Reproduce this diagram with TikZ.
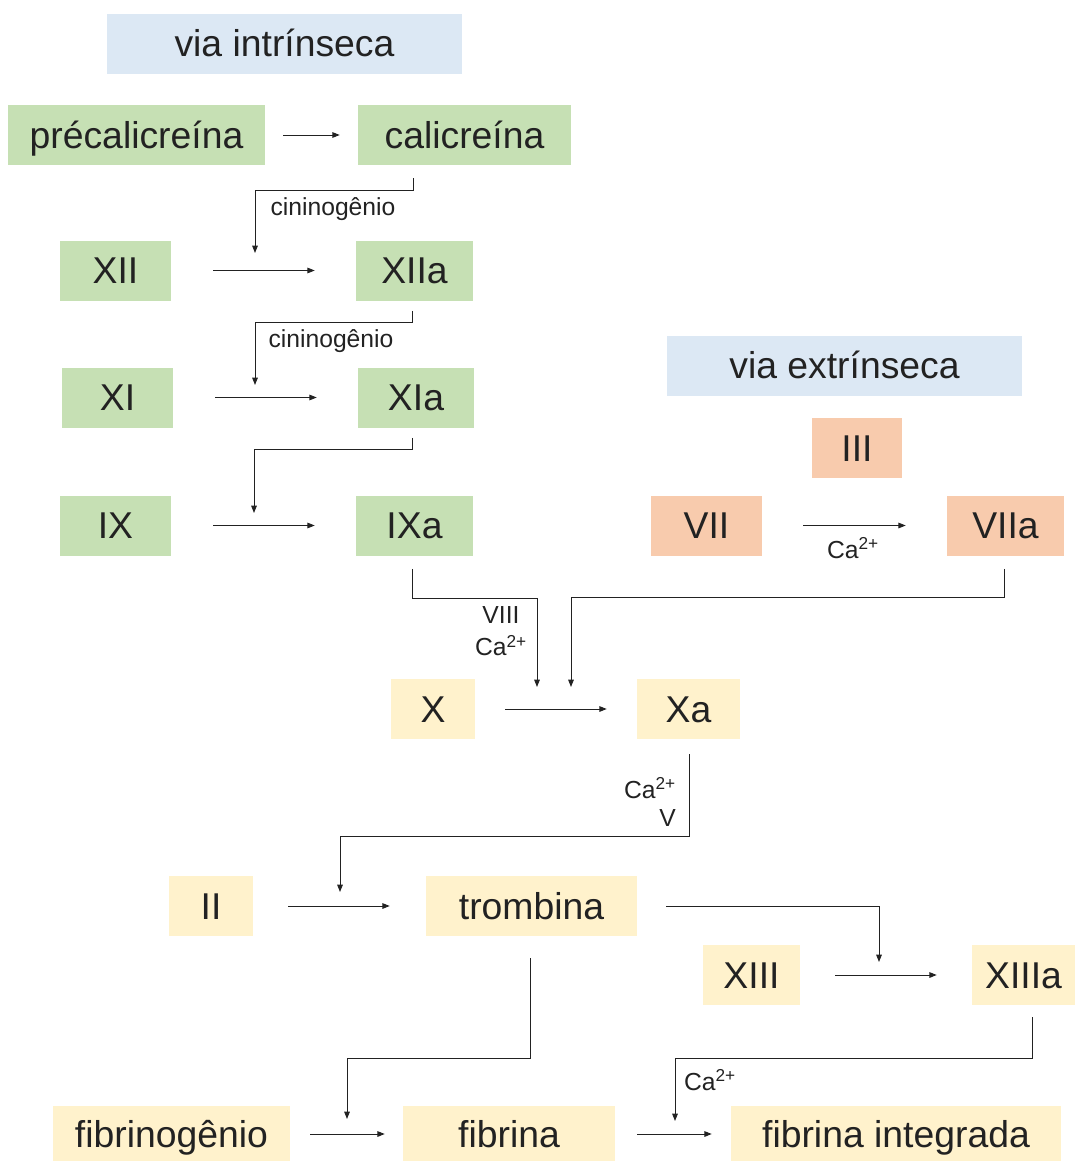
\documentclass[tikz,border=0pt]{standalone}
\usepackage{fontspec}
\setmainfont{Liberation Sans}
\usetikzlibrary{positioning,arrows.meta,calc}

\definecolor{boxgreen}{HTML}{C6E0B4}
\definecolor{boxblue}{HTML}{DCE8F4}
\definecolor{boxorange}{HTML}{F8CBAD}
\definecolor{boxyellow}{HTML}{FFF2CC}
\definecolor{inkgray}{HTML}{222222}

\begin{document}
\begin{tikzpicture}[
  x=0.75pt, y=-0.75pt,
  box/.style={inner sep=0pt, minimum height=45pt, text height=25.2pt, text depth=5.15pt,
    text=inkgray, font=\fontsize{28}{32}\selectfont},
  bw/.style={minimum width=#1*0.75pt},
  gbox/.style={box, fill=boxgreen},
  bbox/.style={box, fill=boxblue},
  obox/.style={box, fill=boxorange},
  ybox/.style={box, fill=boxyellow},
  arrow/.style={-{Triangle[length=5.5pt,width=4.2pt]}, line width=0.7pt, draw=inkgray},
  hgap/.style 2 args={shorten <=#1*0.75pt, shorten >=#2*0.75pt},
  lbl/.style={inner sep=0pt, text=inkgray, font=\fontsize{18.5}{24}\selectfont}
]
\useasboundingbox (0,0) rectangle (1076,1161);

% via intrinseca
\node[bbox, bw=355] (vi) at (284.5,43.5) {via intrínseca};
\node[gbox, bw=257] (pre) at (136.5,135) {précalicreína};
\node[gbox, bw=213] (cal) at (464.5,135) {calicreína};
\node[gbox, bw=111] (f12) at (115.5,270.5) {XII};
\node[gbox, bw=117] (f12a) at (414.5,270.5) {XIIa};
\node[gbox, bw=111] (f11) at (117.5,397.5) {XI};
\node[gbox, bw=116] (f11a) at (416,397.5) {XIa};
\node[gbox, bw=111] (f9) at (115.5,525.5) {IX};
\node[gbox, bw=117] (f9a) at (414.5,525.5) {IXa};

% via extrinseca
\node[bbox, bw=355] (ve) at (844.5,365.5) {via extrínseca};
\node[obox, bw=90] (f3) at (857,448) {III};
\node[obox, bw=111] (f7) at (706.5,525.5) {VII};
\node[obox, bw=117] (f7a) at (1005.5,525.5) {VIIa};

% via comum
\node[ybox, bw=84] (f10) at (433,709) {X};
\node[ybox, bw=103] (f10a) at (688.5,709) {Xa};
\node[ybox, bw=84] (f2) at (211,906) {II};
\node[ybox, bw=211] (trb) at (531.5,906) {trombina};
\node[ybox, bw=97] (f13) at (751.5,975) {XIII};
\node[ybox, bw=103] (f13a) at (1023.5,975) {XIIIa};
\node[ybox, bw=237, minimum height=42pt] (fbg) at (171.5,1134) {fibrinogênio};
\node[ybox, bw=212, minimum height=42pt] (fbr) at (509,1134) {fibrina};
\node[ybox, bw=330, minimum height=42pt] (fbi) at (896,1134) {fibrina integrada};

% free ends of the elbow connectors
\coordinate (k1) at (255,253);
\coordinate (k2) at (255,385);
\coordinate (k3) at (254,513);
\coordinate (k4) at (537,687);
\coordinate (k5) at (571,687);
\coordinate (k6) at (340,892);
\coordinate (k7) at (879,962);
\coordinate (k8) at (347,1119);
\coordinate (k9) at (675,1121);

% straight arrows
\draw[arrow, hgap={18}{18}] (pre) -- (cal);
\draw[arrow, hgap={42}{41}] (f12) -- (f12a);
\draw[arrow, hgap={42}{41}] (f11) -- (f11a);
\draw[arrow, hgap={42}{41}] (f9) -- (f9a);
\draw[arrow, hgap={41}{41}] (f7) -- (f7a);
\draw[arrow, hgap={30}{30}] (f10) -- (f10a);
\draw[arrow, hgap={35}{36}] (f2) -- (trb);
\draw[arrow, hgap={35}{35}] (f13) -- (f13a);
\draw[arrow, hgap={20}{18}] (fbg) -- (fbr);
\draw[arrow, hgap={22}{19}] (fbr) -- (fbi);

% elbow connectors
\draw[arrow] ($(cal.south)+(-51.5,13)$) -- ++(0,12) -| (k1);
\draw[arrow] ($(f12a.south)+(-2.5,10)$) -- ++(0,12) -| (k2);
\draw[arrow] ($(f11a.south)+(-4,10)$) -- ++(0,12) -| (k3);
\draw[arrow] ($(f9a.south)+(-2.5,13)$) -- ++(0,30) -| (k4);
\draw[arrow] ($(f7a.south)+(-1.5,13)$) -- ++(0,29) -| (k5);
\draw[arrow] ($(f10a.south)+(0.5,15)$) -- ++(0,82) -| (k6);
\draw[arrow] ($(trb.east)+(29,0)$) -| (k7);
\draw[arrow] ($(trb.south)+(-1.5,22)$) -- ++(0,100) -| (k8);
\draw[arrow] ($(f13a.south)+(8.5,12)$) -- ++(0,41) -| (k9);

% labels
\node[lbl] (l1) at (333,209) {cininogênio};
\node[lbl] (l2) at (331,341) {cininogênio};
\node[lbl] (l3) at (853,548) {Ca\textsuperscript{2+}};
\node[lbl, align=center] (l4) at (501,631) {VIII\\Ca\textsuperscript{2+}};
\node[lbl, align=right, font=\fontsize{18.5}{21}\selectfont] (l5) at (650,802) {Ca\textsuperscript{2+}\\V};
\node[lbl] (l6) at (710,1080) {Ca\textsuperscript{2+}};
\end{tikzpicture}
\end{document}
